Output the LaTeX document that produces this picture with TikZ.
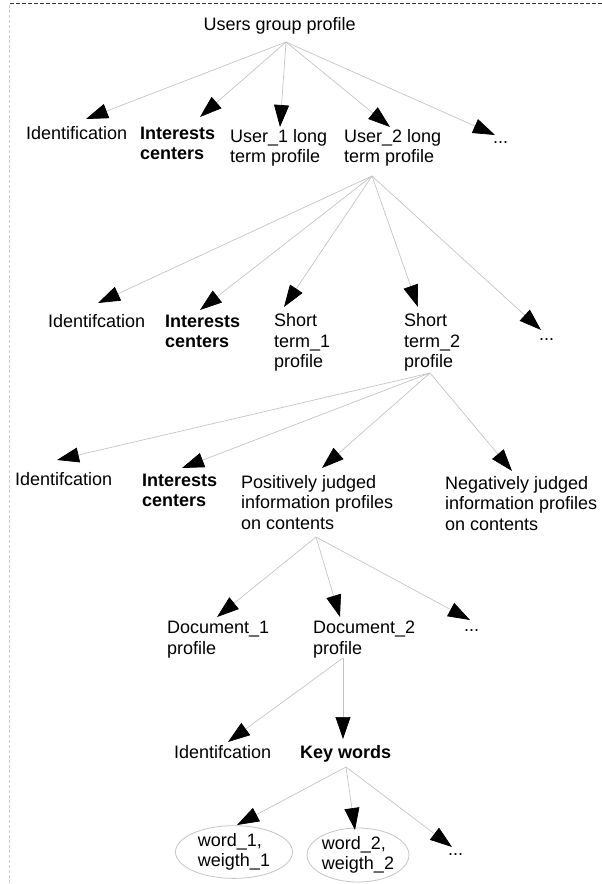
\documentclass[tikz,border=0pt]{standalone}
\usepackage{fontspec}
\setmainfont{Liberation Sans}
\usetikzlibrary{arrows.meta,shapes.geometric}
\definecolor{linegray}{HTML}{C4C4C4}
\definecolor{framegray}{HTML}{CCCCCC}
\definecolor{framedark}{HTML}{333333}
\begin{document}
\begin{tikzpicture}[x=1pt,y=-1pt,
  lbl/.style={anchor=base west, inner sep=0pt, align=left, font=\fontsize{18}{20.5}\selectfont},
  blbl/.style={lbl, font=\fontsize{18}{20.5}\selectfont\bfseries},
  conn/.style={draw=linegray, line width=0.7pt, -{Triangle[length=22pt,width=15pt,fill=black,color=black]}},
  wordell/.style={ellipse, draw=linegray, line width=0.8pt, inner sep=0pt, align=left, font=\fontsize{18}{20.5}\selectfont}
]
\useasboundingbox (0,0) rectangle (602,884);
% frame
\draw[dash pattern=on 4pt off 2pt, draw=framedark, line width=0.9pt] (10,3.5) -- (602,3.5);
\draw[dash pattern=on 3pt off 2pt, draw=framegray, line width=0.9pt] (9,5) -- (9,884);

% (multi-line labels: base anchor = baseline of the last line)
% level 0
\node[lbl] (root) at (203.5,30.5) {Users group profile};
% level 1
\node[lbl] (ident1) at (26,139) {Identification};
\node[blbl] (int1) at (140,159.5) {Interests\\centers};
\node[lbl] (user1) at (230,162.5) {User\_1 long\\term profile};
\node[lbl] (user2) at (344,162.5) {User\_2 long\\term profile};
\node[lbl] (dots1) at (493,143) {...};
% level 2
\node[lbl] (ident2) at (48,327) {Identifcation};
\node[blbl] (int2) at (165,347.5) {Interests\\centers};
\node[lbl] (st1) at (274,367.5) {Short\\term\_1\\profile};
\node[lbl] (st2) at (404,367.5) {Short\\term\_2\\profile};
\node[lbl] (dots2) at (539,340) {...};
% level 3
\node[lbl] (ident3) at (15,485.5) {Identifcation};
\node[blbl] (int3) at (142,506.5) {Interests\\centers};
\node[lbl] (pos) at (241,529) {Positively judged\\information profiles\\on contents};
\node[lbl] (neg) at (445,530) {Negatively judged\\information profiles\\on contents};
% level 4
\node[lbl] (doc1) at (167,654) {Document\_1\\profile};
\node[lbl] (doc2) at (313,654) {Document\_2\\profile};
\node[lbl] (dots4) at (464,631.5) {...};
% level 5
\node[lbl] (ident5) at (174,758.5) {Identifcation};
\node[blbl] (kw) at (300,758.5) {Key words};
% level 6
\node[wordell, minimum width=117pt, minimum height=52pt] (ell1) at (234,852) {word\_1,\\weigth\_1};
\node[wordell, minimum width=101pt, minimum height=54pt] (ell2) at (358,855) {word\_2,\\weigth\_2};
\node[lbl] (dots6) at (448,855) {...};

% connector ends
\coordinate (root-o) at (286,42);
\coordinate (user2-o) at (372,176);
\coordinate (st2-o) at (430,373);
\coordinate (pos-o) at (316,537);
\coordinate (doc2-o) at (343,658);
\coordinate (kw-o) at (346,767);

\coordinate (ident1-t) at (86,119);
\coordinate (int1-t) at (200,117);
\coordinate (user1-t) at (280,127);
\coordinate (user2-t) at (390,127);
\coordinate (dots1-t) at (495,135);

\coordinate (ident2-t) at (98,303);
\coordinate (int2-t) at (200,310);
\coordinate (st1-t) at (284,307);
\coordinate (st2-t) at (418,307);
\coordinate (dots2-t) at (541,330);

\coordinate (ident3-t) at (57,460);
\coordinate (int3-t) at (182,468);
\coordinate (pos-t) at (322,468);
\coordinate (neg-t) at (512,471);

\coordinate (doc1-t) at (217,617);
\coordinate (doc2-t) at (340,617);
\coordinate (dots4-t) at (470,620);

\coordinate (ident5-t) at (228,742);
\coordinate (kw-t) at (343,739);

\coordinate (ell1-t) at (237,825);
\coordinate (ell2-t) at (355,830);
\coordinate (dots6-t) at (452,847);

% connectors
\foreach \c in {ident1,int1,user1,user2,dots1} \draw[conn] (root-o) -- (\c-t);
\foreach \c in {ident2,int2,st1,st2,dots2} \draw[conn] (user2-o) -- (\c-t);
\foreach \c in {ident3,int3,pos,neg} \draw[conn] (st2-o) -- (\c-t);
\foreach \c in {doc1,doc2,dots4} \draw[conn] (pos-o) -- (\c-t);
\foreach \c in {ident5,kw} \draw[conn] (doc2-o) -- (\c-t);
\foreach \c in {ell1,ell2,dots6} \draw[conn] (kw-o) -- (\c-t);
\end{tikzpicture}
\end{document}
